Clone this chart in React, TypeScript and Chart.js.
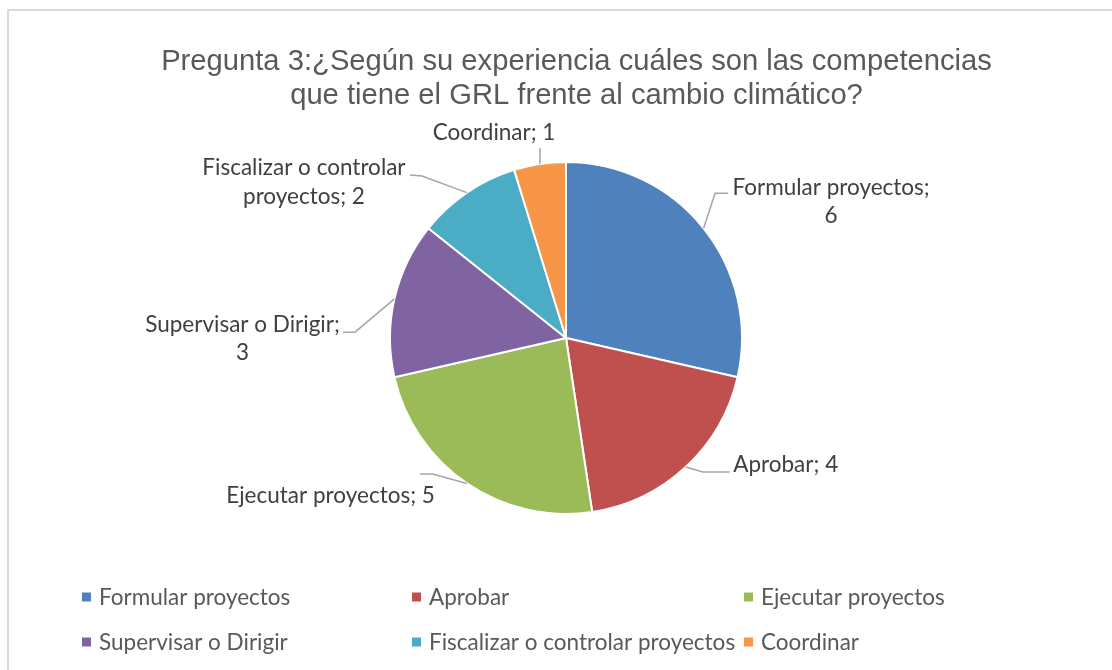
import React, { useEffect, useRef } from "react";
import { Chart, registerables } from "chart.js";

Chart.register(...registerables);

const categories = [
  "Formular proyectos",
  "Aprobar",
  "Ejecutar proyectos",
  "Supervisar o Dirigir",
  "Fiscalizar o controlar proyectos",
  "Coordinar",
];
const values = [6, 4, 5, 3, 2, 1];
const colors = ["#4F81BD", "#C0504D", "#9BBB59", "#8064A2", "#4BACC6", "#F79646"];
const titleLines = [
  "Pregunta 3:¿Según su experiencia cuáles son las competencias",
  "que tiene el GRL frente al cambio climático?",
];
// number of words on the first line of each data label (0 = single line)
const labelBreaks = [2, 0, 0, 3, 3, 0];

// label layout: offsets relative to the slice's outer mid point
const labelLayout = [
  { pts: [[11.5, -35], [24.5, -35]], tx: 127.5, ty: [-33, -5] },
  { pts: [[17, 5], [44, 5]], tx: 100, ty: [5] },
  { pts: [[-34, -9.4], [-47, -9.4]], tx: -136.3, ty: [19.6] },
  { pts: [[-39.4, 33.3], [-51.4, 33.3]], tx: -151.9, ty: [33.3, 61.3] },
  { pts: [[-44.9, -16.6], [-56.9, -17.6]], tx: -162.9, ty: [-17.6, 11.4] },
  { pts: [[0.3, -16]], tx: -45.7, ty: [-24] },
];

const LABEL_FONT = "22.5px Lato";
const TITLE_FONT = "29.2px 'Liberation Sans'";

const decorPlugin = {
  id: "decor",
  beforeDraw(chart: any) {
    const ctx = chart.ctx;
    ctx.save();
    ctx.strokeStyle = "#dadada";
    ctx.lineWidth = 2;
    ctx.beginPath();
    ctx.moveTo(8, 670);
    ctx.lineTo(8, 10);
    ctx.lineTo(1112, 10);
    ctx.stroke();
    // title
    ctx.fillStyle = "#595959";
    ctx.font = TITLE_FONT;
    ctx.textAlign = "center";
    ctx.textBaseline = "alphabetic";
    ctx.fillText(titleLines[0], 576.5, 70);
    ctx.fillText(titleLines[1], 576.5, 104);
    ctx.restore();
  },
  afterDraw(chart: any) {
    const ctx = chart.ctx;
    const meta = chart.getDatasetMeta(0);
    ctx.save();
    meta.data.forEach((arc: any, i: number) => {
      const p = arc.getProps(["x", "y", "startAngle", "endAngle", "outerRadius"], true);
      const mid = (p.startAngle + p.endAngle) / 2;
      const ex = p.x + p.outerRadius * Math.cos(mid);
      const ey = p.y + p.outerRadius * Math.sin(mid);
      const lay = labelLayout[i];
      ctx.strokeStyle = "#a6a6a6";
      ctx.lineWidth = 1.5;
      ctx.beginPath();
      ctx.moveTo(ex, ey);
      lay.pts.forEach((q) => ctx.lineTo(ex + q[0], ey + q[1]));
      ctx.stroke();
      const full = `${categories[i]}; ${values[i]}`;
      const words = full.split(" ");
      const lines =
        labelBreaks[i] > 0
          ? [words.slice(0, labelBreaks[i]).join(" "), words.slice(labelBreaks[i]).join(" ")]
          : [full];
      ctx.fillStyle = "#404040";
      ctx.font = LABEL_FONT;
      ctx.textAlign = "center";
      ctx.textBaseline = "alphabetic";
      lines.forEach((ln, k) => ctx.fillText(ln, ex + lay.tx, ey + lay.ty[k]));
    });
    // legend
    const colX = [82, 412, 744];
    const rowY = [597, 642];
    ctx.font = LABEL_FONT;
    ctx.textAlign = "left";
    ctx.textBaseline = "middle";
    categories.forEach((c, i) => {
      const cx = colX[i % 3];
      const cy = rowY[Math.floor(i / 3)];
      ctx.fillStyle = colors[i];
      ctx.fillRect(cx, cy - 4.5, 9, 9);
      ctx.fillStyle = "#595959";
      ctx.fillText(c, cx + 17, cy + 1);
    });
    ctx.restore();
  },
};

export default function App() {
  const ref = useRef<HTMLCanvasElement>(null);
  useEffect(() => {
    if (!ref.current) return;
    const chart = new Chart(ref.current, {
      type: "pie",
      data: {
        labels: categories,
        datasets: [
          {
            data: values,
            backgroundColor: colors,
            borderColor: "#ffffff",
            borderWidth: 2,
          },
        ],
      },
      options: {
        responsive: false,
        maintainAspectRatio: false,
        devicePixelRatio: 1,
        animation: false,
        layout: { padding: { left: 389, right: 369, top: 161, bottom: 155 } },
        plugins: {
          legend: { display: false },
          title: { display: false },
          tooltip: { enabled: false },
        },
      },
      plugins: [decorPlugin],
    });
    return () => chart.destroy();
  }, []);
  return (
    <canvas
      ref={ref}
      width={1112}
      height={670}
      style={{ position: "fixed", left: 0, top: 0, width: 1112, height: 670, background: "#fff" }}
    />
  );
}
